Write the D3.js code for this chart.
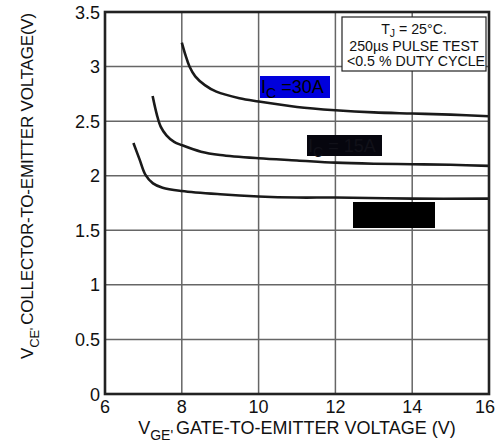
<!DOCTYPE html>
<html><head><meta charset="utf-8">
<script src="https://cdn.jsdelivr.net/npm/d3@7"></script>
<style>
body{margin:0;background:#fff;}
text{font-family:"Liberation Sans",Arial,Helvetica,sans-serif;}
</style></head>
<body>
<svg id="chart" width="498" height="444"></svg>
<script>
const xTicks = [6, 8, 10, 12, 14, 16];
const yTicks = [0, 0.5, 1, 1.5, 2, 2.5, 3, 3.5];
const yTickLabels = ["0", "0.5", "1", "1.5", "2", "2.5", "3", "3.5"];

const vge30 = [8.0, 8.1, 8.2, 8.35, 8.6, 8.9, 9.5, 10, 11, 12, 13, 14, 15, 16];
const vce30 = [3.22, 3.10, 3.00, 2.91, 2.83, 2.77, 2.71, 2.68, 2.63, 2.60, 2.58, 2.57, 2.56, 2.545];

const vge15 = [7.24, 7.35, 7.45, 7.6, 7.8, 8.0, 8.5, 9, 10, 11, 12, 13, 14, 15, 16];
const vce15 = [2.73, 2.56, 2.45, 2.37, 2.31, 2.28, 2.22, 2.19, 2.16, 2.14, 2.12, 2.11, 2.105, 2.10, 2.09];

const vgeLow = [6.74, 6.9, 7.05, 7.25, 7.5, 8, 9, 10, 11, 12, 14, 16];
const vceLow = [2.30, 2.15, 2.01, 1.93, 1.89, 1.86, 1.83, 1.81, 1.80, 1.80, 1.79, 1.79];

const svg = d3.select("#chart");
const x = d3.scaleLinear().domain([6, 16]).range([105, 489]);
const y = d3.scaleLinear().domain([0, 3.5]).range([394, 12]);

// grid
svg.append("g").selectAll("line").data(xTicks.slice(1, -1)).join("line")
  .attr("x1", d => x(d)).attr("x2", d => x(d)).attr("y1", y(3.5)).attr("y2", y(0))
  .attr("stroke", "#666").attr("stroke-width", 1.5);
svg.append("g").selectAll("line").data(yTicks.slice(1, -1)).join("line")
  .attr("y1", d => y(d)).attr("y2", d => y(d)).attr("x1", x(6)).attr("x2", x(16))
  .attr("stroke", "#666").attr("stroke-width", 1.5);

// curves
const line = d3.line().x(d => x(d[0])).y(d => y(d[1])).curve(d3.curveCatmullRom.alpha(0.5));
[[vge30, vce30], [vge15, vce15], [vgeLow, vceLow]].forEach(([xs, ys]) => {
  svg.append("path").datum(xs.map((v, i) => [v, ys[i]]))
    .attr("d", line).attr("fill", "none").attr("stroke", "#1a1a1a").attr("stroke-width", 2.6);
});

// frame
svg.append("rect").attr("x", x(6)).attr("y", y(3.5)).attr("width", x(16) - x(6)).attr("height", y(0) - y(3.5))
  .attr("fill", "none").attr("stroke", "#222").attr("stroke-width", 2.6);

// tick labels
svg.append("g").selectAll("text").data(xTicks).join("text")
  .attr("x", d => x(d) - (d === 16 ? 4 : 0)).attr("y", 413).attr("text-anchor", "middle")
  .attr("font-size", 18).attr("fill", "#111").text(d => d);
svg.append("g").selectAll("text").data(yTicks).join("text")
  .attr("x", 100).attr("y", d => y(d) + 6.5).attr("text-anchor", "end")
  .attr("font-size", 18).attr("fill", "#111").text((d, i) => yTickLabels[i]);

// axis titles
const xt = svg.append("text").attr("x", 297).attr("y", 434).attr("text-anchor", "middle")
  .attr("font-size", 18).attr("fill", "#111");
xt.append("tspan").text("V");
xt.append("tspan").attr("font-size", 14).attr("dy", 6).text("GE'");
xt.append("tspan").attr("dy", -6).attr("dx", 3).text("GATE-TO-EMITTER VOLTAGE (V)");

const yt = svg.append("text").attr("transform", "translate(33,186) rotate(-90)").attr("text-anchor", "middle")
  .attr("font-size", 17).attr("letter-spacing", -0.2).attr("fill", "#111");
yt.append("tspan").text("V");
yt.append("tspan").attr("font-size", 13).attr("dy", 6).text("CE'");
yt.append("tspan").attr("dy", -6).attr("dx", 3).text("COLLECTOR-TO-EMITTER VOLTAGE(V)");

// conditions box
svg.append("rect").attr("x", 342).attr("y", 17).attr("width", 144).attr("height", 54)
  .attr("fill", "#fff").attr("stroke", "#222").attr("stroke-width", 1.2);
const cx = 414;
const t1 = svg.append("text").attr("x", cx).attr("y", 34).attr("text-anchor", "middle").attr("font-size", 14.2).attr("fill", "#111");
t1.append("tspan").text("T");
t1.append("tspan").attr("font-size", 10.5).attr("dy", 3).text("J");
t1.append("tspan").attr("dy", -3).text(" = 25°C.");
svg.append("text").attr("x", cx).attr("y", 51).attr("text-anchor", "middle").attr("font-size", 14.2).attr("fill", "#111").text("250µs PULSE TEST");
svg.append("text").attr("x", cx + 2).attr("y", 66).attr("text-anchor", "middle").attr("font-size", 14.2).attr("fill", "#111").text("<0.5 % DUTY CYCLE");

// curve labels
svg.append("rect").attr("x", 260).attr("y", 76).attr("width", 70).attr("height", 22).attr("fill", "#0000dc");
const l1 = svg.append("text").attr("x", 261).attr("y", 93).attr("font-size", 18).attr("fill", "#000");
l1.append("tspan").text("I");
l1.append("tspan").attr("font-size", 14).attr("dy", 5).text("C");
l1.append("tspan").attr("dy", -5).text(" =30A");

svg.append("rect").attr("x", 307).attr("y", 135).attr("width", 75).attr("height", 21).attr("fill", "#06060e");
const l2 = svg.append("text").attr("x", 308).attr("y", 152).attr("font-size", 18).attr("fill", "#111119");
l2.append("tspan").text("I");
l2.append("tspan").attr("font-size", 14).attr("dy", 5).text("C");
l2.append("tspan").attr("dy", -5).text(" = 15A");

svg.append("rect").attr("x", 353).attr("y", 202).attr("width", 82).attr("height", 26).attr("fill", "#000");
</script>
</body></html>
